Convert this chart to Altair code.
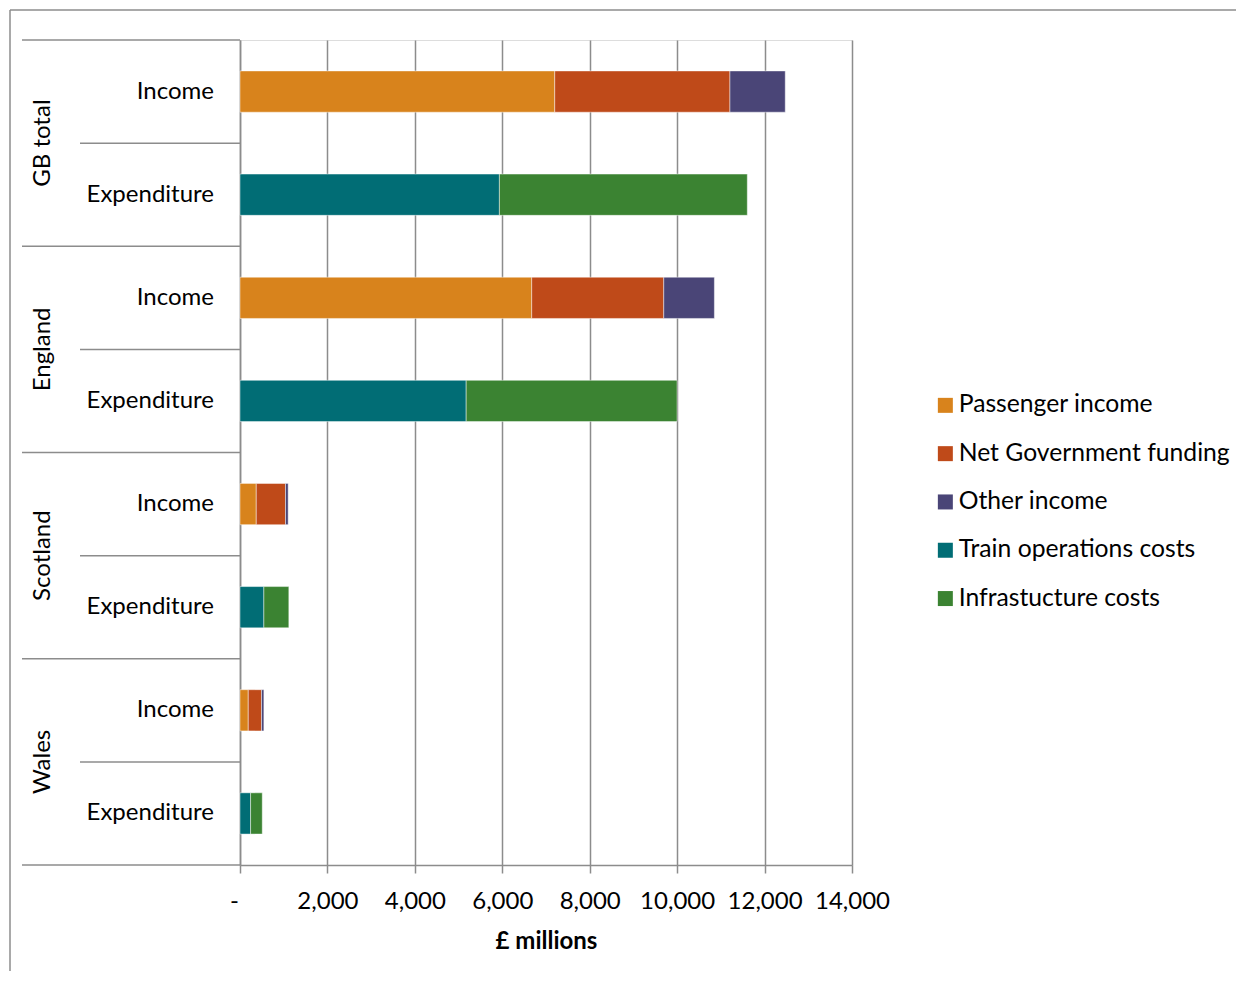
import altair as alt
import pandas as pd

regions = ["GB total", "England", "Scotland", "Wales"]
types = ["Income", "Expenditure"]
series = ["Passenger income", "Net Government funding", "Other income",
          "Train operations costs", "Infrastucture costs"]
colors = ["#D8831C", "#BF4A19", "#4A4577", "#016D75", "#3B8332"]

# values in £ millions, per region
passenger_income = [7200, 6673, 372, 189]
net_gov_funding = [4008, 3021, 669, 304]
other_income = [1265, 1158, 61, 53]
train_ops_costs = [5934, 5174, 546, 242]
infra_costs = [5671, 4824, 571, 267]

FONT = "Lato"
GRAY = "#8c8c8c"
H = 825
STEP = H / (len(regions) * len(types))
HALF = STEP / 2

keys = [f"{r} {t}" for r in regions for t in types]

rows = []
for i, r in enumerate(regions):
    inc = [passenger_income[i], net_gov_funding[i], other_income[i]]
    exp = [train_ops_costs[i], infra_costs[i]]
    for j, v in enumerate(inc):
        rows.append({"key": f"{r} Income", "series": series[j], "order": j, "value": v})
    for j, v in enumerate(exp):
        rows.append({"key": f"{r} Expenditure", "series": series[3 + j], "order": 3 + j, "value": v})
bars_df = pd.DataFrame(rows)

labels_df = pd.DataFrame({"key": keys, "type": [t for r in regions for t in types]})
region_df = pd.DataFrame({"key": [f"{r} Income" for r in regions], "region": regions})
within_df = pd.DataFrame({"key": [f"{r} Expenditure" for r in regions]})
bottom_df = pd.DataFrame({"key": [f"{regions[-1]} Expenditure"]})
one = pd.DataFrame({"a": [0]})

yscale = alt.Scale(domain=keys, paddingInner=0.6, paddingOuter=0.3)

bars = alt.Chart(bars_df).mark_bar(stroke="white", strokeOpacity=0.45, strokeWidth=1).encode(
    x=alt.X("value:Q", stack="zero",
            scale=alt.Scale(domain=[0, 14000], nice=False),
            axis=alt.Axis(values=list(range(0, 14001, 2000)),
                          labelExpr="datum.value == 0 ? '-' : format(datum.value, ',')",
                          labelOffset={"condition": {"test": "datum.value == 0", "value": -6}, "value": 0},
                          title="£ millions", titleFont=FONT, titleFontSize=24,
                          titleFontWeight="bold", titleColor="black", titlePadding=16,
                          labelFont=FONT, labelFontSize=24, labelColor="black",
                          labelOverlap=False, labelFlush=False,
                          labelPadding=16, tickSize=8, tickColor=GRAY, tickWidth=1.5,
                          domainColor=GRAY, domainWidth=1.5,
                          grid=True, gridColor=GRAY, gridWidth=1.5)),
    y=alt.Y("key:N", scale=yscale,
            axis=alt.Axis(labels=False, ticks=False, title=None, grid=False,
                          domainColor=GRAY, domainWidth=1.5)),
    color=alt.Color("series:N", scale=alt.Scale(domain=series, range=colors),
                    legend=alt.Legend(title=None, orient="none", legendX=693, legendY=353,
                                      symbolType="square", symbolSize=225, symbolStrokeWidth=0,
                                      labelFont=FONT, labelFontSize=24.7, labelColor="black",
                                      labelOffset=1, rowPadding=22.3, labelLimit=400)),
    order=alt.Order("order:Q"),
)

type_text = alt.Chart(labels_df).mark_text(
    align="right", baseline="middle", font=FONT, fontSize=24, color="black"
).encode(
    y=alt.Y("key:N", scale=yscale),
    x=alt.value(-26),
    text="type:N",
)

region_text = alt.Chart(region_df).mark_text(
    align="center", baseline="middle", angle=270, font=FONT, fontSize=24, color="black",
    yOffset=HALF,
).encode(
    y=alt.Y("key:N", scale=yscale),
    x=alt.value(-197),
    text="region:N",
)

group_rules = alt.Chart(region_df).mark_rule(color=GRAY, strokeWidth=1.5, yOffset=-HALF).encode(
    y=alt.Y("key:N", scale=yscale),
    x=alt.value(-218), x2=alt.value(0),
)
within_rules = alt.Chart(within_df).mark_rule(color=GRAY, strokeWidth=1.5, yOffset=-HALF).encode(
    y=alt.Y("key:N", scale=yscale),
    x=alt.value(-160), x2=alt.value(0),
)
bottom_rule = alt.Chart(bottom_df).mark_rule(color=GRAY, strokeWidth=1.5, yOffset=HALF).encode(
    y=alt.Y("key:N", scale=yscale),
    x=alt.value(-218), x2=alt.value(0),
)

border_top = alt.Chart(one).mark_rule(color=GRAY, strokeWidth=1.5).encode(
    x=alt.value(-230), x2=alt.value(1010), y=alt.value(-30),
)
border_left = alt.Chart(one).mark_rule(color=GRAY, strokeWidth=1.5).encode(
    x=alt.value(-230), y=alt.value(-30), y2=alt.value(960),
)

chart = alt.layer(
    border_top, border_left, group_rules, within_rules, bottom_rule,
    bars, type_text, region_text,
).properties(
    width=612, height=H,
    autosize=alt.AutoSizeParams(type="none"),
    padding={"left": 232, "top": 32, "right": 384, "bottom": 106},
).configure_view(stroke=None).configure(background="white")

chart.save("out.html", embed_options={"renderer": "svg", "actions": False})
